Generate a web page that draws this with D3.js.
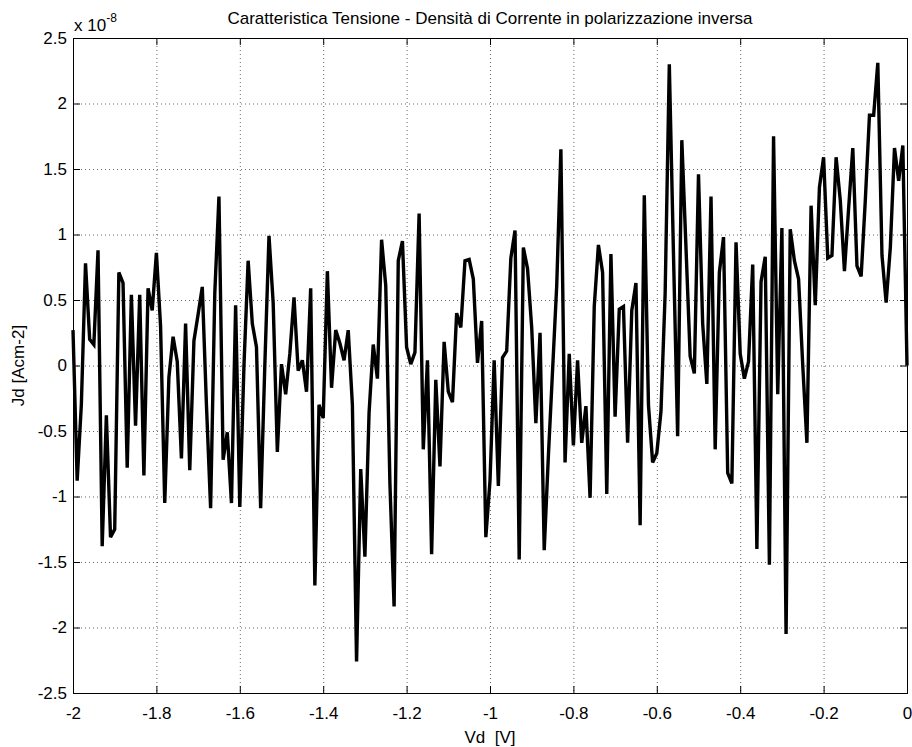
<!DOCTYPE html>
<html>
<head>
<meta charset="utf-8">
<script src="https://cdn.jsdelivr.net/npm/d3@7"></script>
<style>
  body { margin: 0; background: #fff; }
  svg text { font-family: "Liberation Sans", Arial, Helvetica, sans-serif; fill: #000; }
</style>
</head>
<body>
<div id="chart"></div>
<script>
// DATA (Jd values in units of 1e-8 A/cm^2)
const vd = [
  -2.00, -1.99, -1.98, -1.97, -1.96, -1.95, -1.94, -1.93, -1.92, -1.91,
  -1.90, -1.89, -1.88, -1.87, -1.86, -1.85, -1.84, -1.83, -1.82, -1.81,
  -1.80, -1.79, -1.78, -1.77, -1.76, -1.75, -1.74, -1.73, -1.72, -1.71,
  -1.70, -1.69, -1.68, -1.67, -1.66, -1.65, -1.64, -1.63, -1.62, -1.61,
  -1.60, -1.59, -1.58, -1.57, -1.56, -1.55, -1.54, -1.53, -1.52, -1.51,
  -1.50, -1.49, -1.48, -1.47, -1.46, -1.45, -1.44, -1.43, -1.42, -1.41,
  -1.40, -1.39, -1.38, -1.37, -1.36, -1.35, -1.34, -1.33, -1.32, -1.31,
  -1.30, -1.29, -1.28, -1.27, -1.26, -1.25, -1.24, -1.23, -1.22, -1.21,
  -1.20, -1.19, -1.18, -1.17, -1.16, -1.15, -1.14, -1.13, -1.12, -1.11,
  -1.10, -1.09, -1.08, -1.07, -1.06, -1.05, -1.04, -1.03, -1.02, -1.01,
  -1.00, -0.99, -0.98, -0.97, -0.96, -0.95, -0.94, -0.93, -0.92, -0.91,
  -0.90, -0.89, -0.88, -0.87, -0.86, -0.85, -0.84, -0.83, -0.82, -0.81,
  -0.80, -0.79, -0.78, -0.77, -0.76, -0.75, -0.74, -0.73, -0.72, -0.71,
  -0.70, -0.69, -0.68, -0.67, -0.66, -0.65, -0.64, -0.63, -0.62, -0.61,
  -0.60, -0.59, -0.58, -0.57, -0.56, -0.55, -0.54, -0.53, -0.52, -0.51,
  -0.50, -0.49, -0.48, -0.47, -0.46, -0.45, -0.44, -0.43, -0.42, -0.41,
  -0.40, -0.39, -0.38, -0.37, -0.36, -0.35, -0.34, -0.33, -0.32, -0.31,
  -0.30, -0.29, -0.28, -0.27, -0.26, -0.25, -0.24, -0.23, -0.22, -0.21,
  -0.20, -0.19, -0.18, -0.17, -0.16, -0.15, -0.14, -0.13, -0.12, -0.11,
  -0.10, -0.09, -0.08, -0.07, -0.06, -0.05, -0.04, -0.03, -0.02, -0.01,
   0.00
];

const jd = [
   0.27, -0.88, -0.30,  0.78,  0.20,  0.16,  0.88, -1.38, -0.38, -1.31,
  -1.25,  0.71,  0.63, -0.78,  0.54, -0.46,  0.54, -0.84,  0.59,  0.42,
   0.86,  0.30, -1.05, -0.09,  0.22,  0.03, -0.71,  0.32, -0.80,  0.19,
   0.39,  0.60, -0.30, -1.09,  0.55,  1.29, -0.72, -0.51, -1.05,  0.46,
  -1.08,  0.00,  0.80,  0.32,  0.14, -1.09,  0.00,  0.99,  0.48, -0.66,
   0.01, -0.22,  0.09,  0.52, -0.04,  0.04, -0.20,  0.59, -1.68, -0.30,
  -0.40,  0.72, -0.17,  0.27,  0.17,  0.04,  0.27, -0.30, -2.26, -0.79,
  -1.46, -0.36,  0.16, -0.10,  0.96,  0.61, -0.90, -1.84,  0.80,  0.95,
   0.14,  0.01,  0.10,  1.16, -0.64,  0.04, -1.44, -0.11, -0.77,  0.18,
  -0.20, -0.28,  0.40,  0.29,  0.80,  0.81,  0.66,  0.02,  0.34, -1.31,
  -0.88,  0.04, -0.92,  0.06,  0.11,  0.82,  1.03, -1.48,  0.90,  0.74,
   0.29, -0.44,  0.25, -1.41, -0.69, -0.04,  0.61,  1.65, -0.74,  0.09,
  -0.61,  0.04, -0.59, -0.31, -1.01,  0.45,  0.92,  0.71, -0.98,  0.85,
  -0.39,  0.43,  0.45, -0.59,  0.42,  0.63, -1.22,  1.30, -0.30, -0.74,
  -0.67, -0.35,  0.55,  2.30,  0.85, -0.54,  1.72,  0.90,  0.07, -0.06,
   1.46,  0.32, -0.14,  1.29, -0.64,  0.71,  0.98, -0.82, -0.90,  0.94,
   0.09, -0.10,  0.03,  0.77, -1.40,  0.64,  0.83, -1.52,  1.75, -0.22,
   1.05, -2.05,  1.04,  0.80,  0.66,  0.00, -0.59,  1.22,  0.46,  1.36,
   1.59,  0.82,  0.84,  1.59,  1.26,  0.72,  1.20,  1.66,  0.76,  0.68,
   1.26,  1.91,  1.91,  2.31,  0.84,  0.48,  0.90,  1.66,  1.41,  1.68,
   0.00
];

const xTicks = [-2, -1.8, -1.6, -1.4, -1.2, -1, -0.8, -0.6, -0.4, -0.2, 0];
const yTicks = [-2.5, -2, -1.5, -1, -0.5, 0, 0.5, 1, 1.5, 2, 2.5];

const titleText = "Caratteristica Tensione - Densità di Corrente in polarizzazione inversa";
const xLabel = "Vd  [V]";
const yLabel = "Jd [Acm-2]";
const expBase = "x 10";
const expPow = "-8";

// LAYOUT
const width = 912;
const height = 747;
const margin = { top: 38, right: 5, bottom: 54, left: 73 };
const plotW = width - margin.left - margin.right;
const plotH = height - margin.top - margin.bottom;
const fontSize = "17px";

const svg = d3.select("#chart")
  .append("svg")
  .attr("width", width)
  .attr("height", height);

const x = d3.scaleLinear().domain([-2, 0]).range([margin.left, margin.left + plotW]);
const y = d3.scaleLinear().domain([-2.5, 2.5]).range([margin.top + plotH, margin.top]);

const fmt = d => String(+d.toFixed(1));

// grid
const grid = svg.append("g").attr("class", "grid")
  .attr("stroke", "#000")
  .attr("stroke-width", 0.6)
  .attr("stroke-dasharray", "1,3");

grid.selectAll("line.vx")
  .data(xTicks.slice(1, -1))
  .enter().append("line")
  .attr("x1", d => x(d) + 0.5).attr("x2", d => x(d) + 0.5)
  .attr("y1", margin.top).attr("y2", margin.top + plotH);

grid.selectAll("line.hy")
  .data(yTicks.slice(1, -1))
  .enter().append("line")
  .attr("y1", d => y(d) + 0.5).attr("y2", d => y(d) + 0.5)
  .attr("x1", margin.left).attr("x2", margin.left + plotW);

// data line
const line = d3.line()
  .x((d, i) => x(vd[i]))
  .y(d => y(d));

svg.append("path")
  .datum(jd)
  .attr("d", line)
  .attr("fill", "none")
  .attr("stroke", "#000")
  .attr("stroke-width", 3.4)
  .attr("stroke-linejoin", "miter")
  .attr("stroke-miterlimit", 3);

// axes (ticks inside, matlab style)
const tickLen = 7;

svg.append("g")
  .attr("transform", "translate(0," + (margin.top + plotH) + ")")
  .call(d3.axisBottom(x).tickValues(xTicks).tickFormat(fmt).tickSize(-tickLen).tickPadding(14));

svg.append("g")
  .attr("transform", "translate(0," + margin.top + ")")
  .call(d3.axisTop(x).tickValues(xTicks).tickFormat("").tickSize(-tickLen));

svg.append("g")
  .attr("transform", "translate(" + margin.left + ",0)")
  .call(d3.axisLeft(y).tickValues(yTicks).tickFormat(fmt).tickSize(-tickLen).tickPadding(6));

svg.append("g")
  .attr("transform", "translate(" + (margin.left + plotW) + ",0)")
  .call(d3.axisRight(y).tickValues(yTicks).tickFormat("").tickSize(-tickLen));

svg.selectAll(".domain").attr("stroke", "#000").attr("stroke-width", 1);
svg.selectAll(".tick line").attr("stroke", "#000");
svg.selectAll(".tick text")
  .style("font-size", fontSize)
  .style("font-family", "'Liberation Sans', Arial, sans-serif");

// frame
svg.append("rect")
  .attr("x", margin.left + 0.5)
  .attr("y", margin.top + 0.5)
  .attr("width", plotW)
  .attr("height", plotH)
  .attr("fill", "none")
  .attr("stroke", "#000")
  .attr("stroke-width", 1);

// title
svg.append("text")
  .attr("x", margin.left + plotW / 2)
  .attr("y", 24)
  .attr("text-anchor", "middle")
  .style("font-size", fontSize)
  .text(titleText);

// exponent label
const expText = svg.append("text")
  .attr("x", margin.left + 1)
  .attr("y", 31)
  .style("font-size", fontSize);
expText.append("tspan").text(expBase);
expText.append("tspan").attr("dy", -9).style("font-size", "12px").text(expPow);

// axis labels
svg.append("text")
  .attr("x", margin.left + plotW / 2)
  .attr("y", 743)
  .attr("text-anchor", "middle")
  .style("font-size", fontSize)
  .style("white-space", "pre")
  .text(xLabel);

svg.append("text")
  .attr("transform", "translate(24," + (margin.top + plotH / 2) + ") rotate(-90)")
  .attr("text-anchor", "middle")
  .style("font-size", fontSize)
  .text(yLabel);
</script>
</body>
</html>
